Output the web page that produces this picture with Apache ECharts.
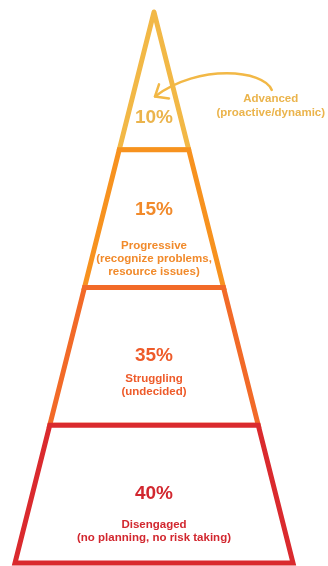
<!DOCTYPE html>
<html><head><meta charset="utf-8">
<script src="https://cdn.jsdelivr.net/npm/echarts@6/dist/echarts.min.js"></script>
<style>html,body{margin:0;padding:0;background:#fff}#c{width:328px;height:566px}</style>
</head><body><div id="c"></div>
<script>
// Tiers listed from the top of the pyramid to the bottom
const categories = ['Advanced', 'Progressive', 'Struggling', 'Disengaged'];
const subtitles = ['(proactive/dynamic)', '(recognize problems,\nresource issues)', '(undecided)', '(no planning, no risk taking)'];
const values = [10, 15, 35, 40];

// Styling (not data)
const strokeColors = ['#F2B846', '#F7921F', '#F26A28', '#DA2A2E'];
const textColors = ['#EBB44C', '#F18A2B', '#EE5B2A', '#D2272F'];
const pctPos = [0.23, 0.563, 0.503, 0.50];      // fraction of tier height from tier bottom
const labelPos = [null, 0.21, 0.292, 0.232];
const FONT = '"Liberation Sans", Arial, sans-serif';
const N = categories.length;

const chart = echarts.init(document.getElementById('c'), null, {renderer: 'canvas'});
const seriesData = values.map((v, i) => ({value: [i, v], name: categories[i]}));

chart.setOption({
  backgroundColor: '#ffffff',
  animation: false,
  grid: {left: 15, right: 35, top: 12, bottom: 3},
  xAxis: {type: 'value', min: -1, max: 1, show: false},
  yAxis: {type: 'value', min: 0, max: N, show: false},
  series: [{
    type: 'custom',
    data: seriesData,
    renderItem: function (params, api) {
      const i = api.value(0);
      const pct = api.value(1);
      const top = N - i, bot = N - 1 - i;
      const hw = l => (N - l) / N;
      const children = [];
      let pts;
      if (hw(top) === 0) {
        pts = [api.coord([0, top]), api.coord([hw(bot), bot]), api.coord([-hw(bot), bot])];
      } else {
        pts = [api.coord([-hw(top), top]), api.coord([hw(top), top]), api.coord([hw(bot), bot]), api.coord([-hw(bot), bot])];
      }
      children.push({
        type: 'polygon',
        shape: {points: pts},
        style: {fill: '#ffffff', stroke: strokeColors[i], lineWidth: 5, lineJoin: hw(top) === 0 ? 'round' : 'miter'}
      });
      const pc = api.coord([0, bot + pctPos[i]]);
      children.push({
        type: 'text', x: pc[0], y: pc[1],
        style: {text: pct + '%', fill: textColors[i], font: 'bold 19px ' + FONT, align: 'center', verticalAlign: 'middle'}
      });
      if (labelPos[i] != null) {
        const lc = api.coord([0, bot + labelPos[i]]);
        children.push({
          type: 'text', x: lc[0], y: lc[1],
          style: {text: categories[i] + '\n' + subtitles[i], fill: textColors[i], font: 'bold 11.5px ' + FONT,
                  lineHeight: 13, align: 'center', verticalAlign: 'middle'}
        });
      } else {
        // outside annotation with arrow
        const lc = api.coord([0.84, 3.318]);
        children.push({
          type: 'text', x: lc[0], y: lc[1],
          style: {text: categories[i] + '\n' + subtitles[i], fill: textColors[i], font: 'bold 11.5px ' + FONT,
                  lineHeight: 14, align: 'center', verticalAlign: 'middle'}
        });
        const tip = api.coord([0, bot + 0.38]);
        const sx = lc[0] + 1, sy = lc[1] - 16;
        children.push({
          type: 'bezierCurve',
          shape: {x1: sx, y1: sy, cpx1: sx - 8, cpy1: sy - 20, cpx2: tip[0] + 45, cpy2: tip[1] - 34, x2: tip[0] + 1, y2: tip[1] - 1},
          style: {stroke: strokeColors[i], lineWidth: 2.5, fill: null, lineCap: 'round'}
        });
        children.push({
          type: 'polyline',
          shape: {points: [[tip[0] + 5, tip[1] - 13], [tip[0] + 1, tip[1] - 1], [tip[0] + 15, tip[1] + 1]]},
          style: {stroke: strokeColors[i], lineWidth: 2.5, fill: null, lineCap: 'round', lineJoin: 'round'}
        });
      }
      return {type: 'group', children: children};
    }
  }]
});
</script>
</body></html>
